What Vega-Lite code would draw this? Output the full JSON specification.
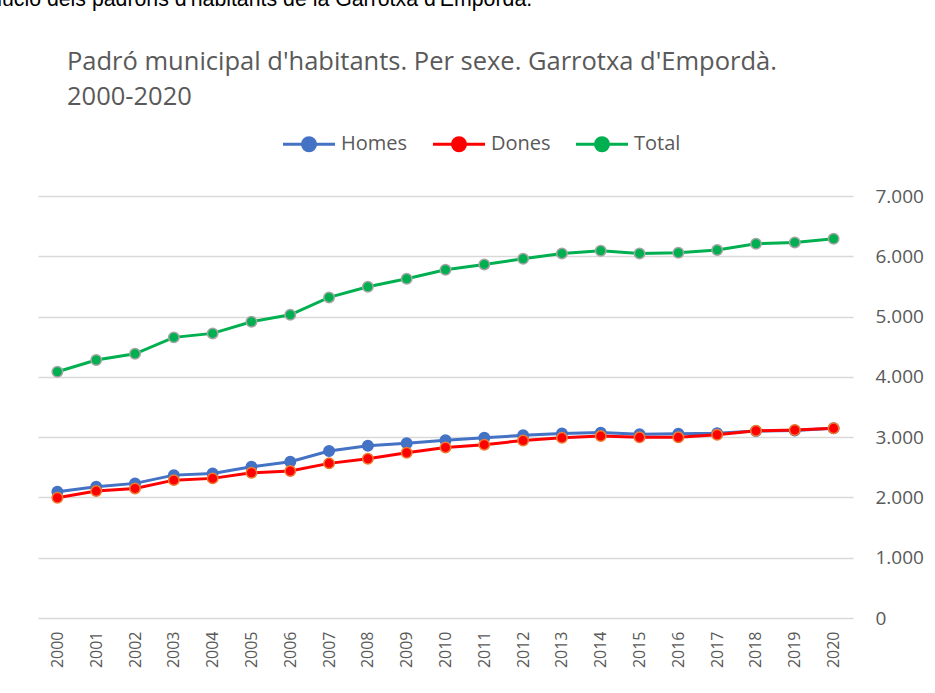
{
  "$schema": "https://vega.github.io/schema/vega-lite/v6.json",
  "width": 815,
  "height": 422,
  "autosize": {"type": "none"},
  "padding": {"left": 38, "top": 196, "right": 82, "bottom": 75},
  "background": "white",
  "title": {
    "text": ["Padró municipal d'habitants. Per sexe. Garrotxa d'Empordà.", "2000-2020"],
    "anchor": "start",
    "frame": "group",
    "dx": 29,
    "dy": 167,
    "offset": 20,
    "baseline": "bottom",
    "font": "Open Sans",
    "fontSize": 25.5,
    "fontWeight": "normal",
    "color": "#595959",
    "lineHeight": 35
  },
  "config": {"view": {"stroke": null}},
  "data": {
    "values": [
      {"year": 2000, "serie": "Homes", "value": 2093},
      {"year": 2001, "serie": "Homes", "value": 2176},
      {"year": 2002, "serie": "Homes", "value": 2233},
      {"year": 2003, "serie": "Homes", "value": 2370},
      {"year": 2004, "serie": "Homes", "value": 2398},
      {"year": 2005, "serie": "Homes", "value": 2508},
      {"year": 2006, "serie": "Homes", "value": 2591},
      {"year": 2007, "serie": "Homes", "value": 2769},
      {"year": 2008, "serie": "Homes", "value": 2857},
      {"year": 2009, "serie": "Homes", "value": 2897},
      {"year": 2010, "serie": "Homes", "value": 2950},
      {"year": 2011, "serie": "Homes", "value": 2990},
      {"year": 2012, "serie": "Homes", "value": 3030},
      {"year": 2013, "serie": "Homes", "value": 3060},
      {"year": 2014, "serie": "Homes", "value": 3075},
      {"year": 2015, "serie": "Homes", "value": 3050},
      {"year": 2016, "serie": "Homes", "value": 3055},
      {"year": 2017, "serie": "Homes", "value": 3065},
      {"year": 2018, "serie": "Homes", "value": 3102},
      {"year": 2019, "serie": "Homes", "value": 3110},
      {"year": 2020, "serie": "Homes", "value": 3146},
      {"year": 2000, "serie": "Dones", "value": 1995},
      {"year": 2001, "serie": "Dones", "value": 2105},
      {"year": 2002, "serie": "Dones", "value": 2149},
      {"year": 2003, "serie": "Dones", "value": 2287},
      {"year": 2004, "serie": "Dones", "value": 2316},
      {"year": 2005, "serie": "Dones", "value": 2409},
      {"year": 2006, "serie": "Dones", "value": 2437},
      {"year": 2007, "serie": "Dones", "value": 2565},
      {"year": 2008, "serie": "Dones", "value": 2641},
      {"year": 2009, "serie": "Dones", "value": 2741},
      {"year": 2010, "serie": "Dones", "value": 2830},
      {"year": 2011, "serie": "Dones", "value": 2875},
      {"year": 2012, "serie": "Dones", "value": 2945},
      {"year": 2013, "serie": "Dones", "value": 2988},
      {"year": 2014, "serie": "Dones", "value": 3018},
      {"year": 2015, "serie": "Dones", "value": 2997},
      {"year": 2016, "serie": "Dones", "value": 2997},
      {"year": 2017, "serie": "Dones", "value": 3040},
      {"year": 2018, "serie": "Dones", "value": 3106},
      {"year": 2019, "serie": "Dones", "value": 3118},
      {"year": 2020, "serie": "Dones", "value": 3146},
      {"year": 2000, "serie": "Total", "value": 4085},
      {"year": 2001, "serie": "Total", "value": 4279},
      {"year": 2002, "serie": "Total", "value": 4383},
      {"year": 2003, "serie": "Total", "value": 4655},
      {"year": 2004, "serie": "Total", "value": 4721},
      {"year": 2005, "serie": "Total", "value": 4914},
      {"year": 2006, "serie": "Total", "value": 5030},
      {"year": 2007, "serie": "Total", "value": 5318},
      {"year": 2008, "serie": "Total", "value": 5495},
      {"year": 2009, "serie": "Total", "value": 5628},
      {"year": 2010, "serie": "Total", "value": 5777},
      {"year": 2011, "serie": "Total", "value": 5865},
      {"year": 2012, "serie": "Total", "value": 5959},
      {"year": 2013, "serie": "Total", "value": 6048},
      {"year": 2014, "serie": "Total", "value": 6092},
      {"year": 2015, "serie": "Total", "value": 6048},
      {"year": 2016, "serie": "Total", "value": 6059},
      {"year": 2017, "serie": "Total", "value": 6103},
      {"year": 2018, "serie": "Total", "value": 6208},
      {"year": 2019, "serie": "Total", "value": 6230},
      {"year": 2020, "serie": "Total", "value": 6291}
    ]
  },
  "encoding": {
    "x": {
      "field": "year",
      "type": "ordinal",
      "scale": {"type": "point", "padding": 0.5},
      "axis": {
        "title": null,
        "labelAngle": -90,
        "labelPadding": 13,
        "labelFont": "Open Sans",
        "labelFontSize": 16,
        "labelColor": "#595959",
        "domain": false,
        "ticks": false,
        "grid": false
      }
    },
    "y": {
      "field": "value",
      "type": "quantitative",
      "scale": {"domain": [0, 7000], "nice": false},
      "axis": {
        "orient": "right",
        "values": [0, 1000, 2000, 3000, 4000, 5000, 6000, 7000],
        "labelExpr": "replace(format(datum.value, ','), ',', '.')",
        "labelPadding": 22,
        "labelFont": "Open Sans",
        "labelFontSize": 19,
        "labelColor": "#595959",
        "domain": false,
        "ticks": false,
        "grid": true,
        "gridColor": "#D9D9D9",
        "gridWidth": 1.3,
        "title": "Evolució dels padrons d'habitants de la Garrotxa d'Empordà.",
        "titleAngle": 0,
        "titleX": -893,
        "titleY": -191,
        "titleAlign": "left",
        "titleBaseline": "alphabetic",
        "titleFont": "Liberation Sans",
        "titleFontSize": 21.3,
        "titleFontWeight": "normal",
        "titleColor": "#000000"
      }
    }
  },
  "layer": [
    {
      "mark": {"type": "line", "strokeWidth": 3},
      "encoding": {
        "color": {
          "field": "serie",
          "type": "nominal",
          "scale": {"domain": ["Homes", "Dones", "Total"], "range": ["#4472C4", "#FF0000", "#00B050"]},
          "legend": {
            "title": null,
            "orient": "none",
            "direction": "horizontal",
            "legendX": 261,
            "legendY": -62,
            "symbolType": "M-4,0L4,0M1,0A1,1,0,1,1,-1,0A1,1,0,1,1,1,0Z",
            "symbolSize": 169,
            "symbolStrokeWidth": 3,
            "labelFont": "Open Sans",
            "labelFontSize": 20,
            "labelColor": "#595959",
            "labelOffset": 22,
            "columnPadding": 19,
            "encode": {
              "symbols": {
                "update": {
                  "fill": {"scale": "color", "field": "value"},
                  "stroke": {"scale": "color", "field": "value"},
                  "strokeWidth": {"value": 3},
                  "opacity": {"value": 1}
                }
              }
            }
          }
        }
      }
    },
    {
      "mark": {"type": "point", "filled": true, "size": 110, "strokeWidth": 1.5, "opacity": 1},
      "encoding": {
        "fill": {
          "field": "serie",
          "type": "nominal",
          "scale": {"domain": ["Homes", "Dones", "Total"], "range": ["#4472C4", "#FF0000", "#00B050"]},
          "legend": null
        },
        "stroke": {
          "field": "serie",
          "type": "nominal",
          "scale": {"domain": ["Homes", "Dones", "Total"], "range": ["#4472C4", "#ED7D31", "#A5A5A5"]},
          "legend": null
        }
      }
    }
  ]
}
